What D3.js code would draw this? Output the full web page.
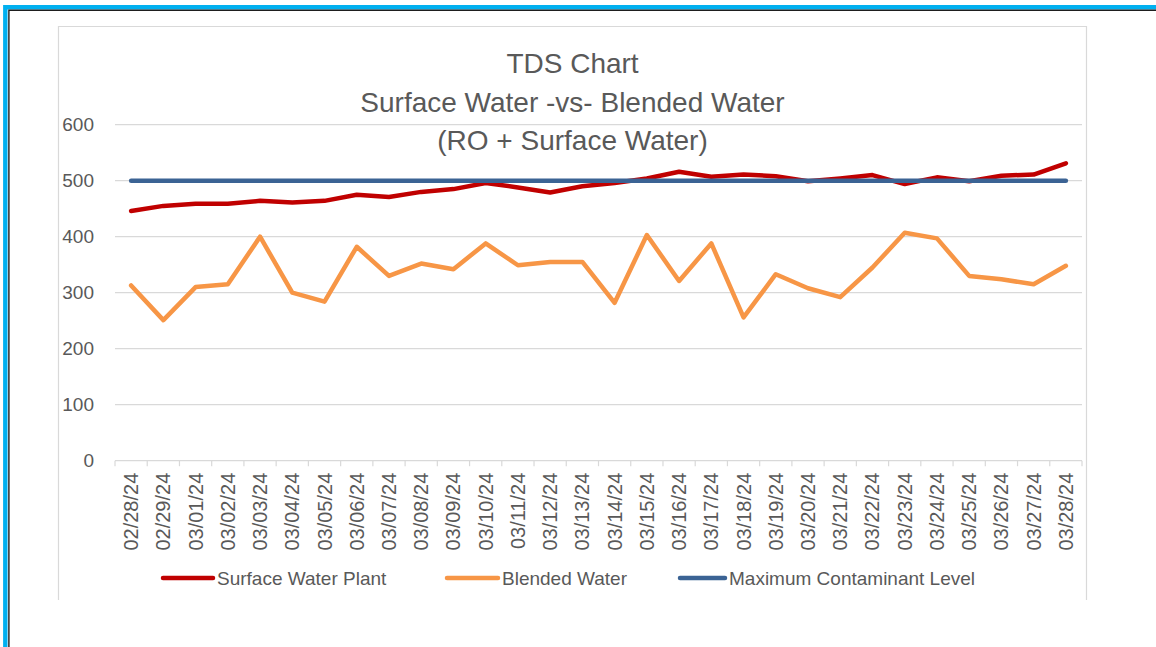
<!DOCTYPE html>
<html>
<head>
<meta charset="utf-8">
<script src="https://cdn.jsdelivr.net/npm/d3@7"></script>
<style>
  html, body { margin: 0; padding: 0; background: #fff; }
  svg { display: block; }
  text { font-family: "Liberation Sans", Arial, sans-serif; fill: #595959; }
</style>
</head>
<body>
<svg id="chart" width="1156" height="647"></svg>
<script>
// ---- Data ----
const dates = ["02/28/24","02/29/24","03/01/24","03/02/24","03/03/24","03/04/24","03/05/24","03/06/24",
  "03/07/24","03/08/24","03/09/24","03/10/24","03/11/24","03/12/24","03/13/24","03/14/24","03/15/24",
  "03/16/24","03/17/24","03/18/24","03/19/24","03/20/24","03/21/24","03/22/24","03/23/24","03/24/24",
  "03/25/24","03/26/24","03/27/24","03/28/24"];
const surfaceWater = [446,455,459,459,464,461,464,475,471,480,485,496,488,479,490,496,504,516,507,511,
  508,499,504,510,494,506,499,509,511,531];
const blendedWater = [313,251,310,315,400,300,284,382,330,352,342,388,349,355,355,282,403,321,388,256,
  333,308,292,345,407,397,330,324,315,348];
const mcl = [500,500,500,500,500,500,500,500,500,500,500,500,500,500,500,500,500,500,500,500,
  500,500,500,500,500,500,500,500,500,500];
const yTicks = [0,100,200,300,400,500,600];
const titleLines = ["TDS Chart","Surface Water -vs- Blended Water","(RO + Surface Water)"];
const seriesNames = ["Surface Water Plant","Blended Water","Maximum Contaminant Level"];
const seriesColors = ["#C00000","#F79646","#3B6394"];

// ---- Layout ----
const svg = d3.select("#chart");
const plot = { left: 115, right: 1082, top: 124.7, bottom: 460.7 };

// outer frame (cyan + dark inner line)
svg.append("path").attr("d","M5.3,647 V7.2 H1156").attr("fill","none")
  .attr("stroke","#00B0F0").attr("stroke-width",4.4);
svg.append("path").attr("d","M8.9,647 V10.2 H1156").attr("fill","none")
  .attr("stroke","#1e1e1e").attr("stroke-width",1.4);

// chart area box (left, top, right)
svg.append("path").attr("d","M58.5,600 V26.5 H1086.5 V600").attr("fill","none")
  .attr("stroke","#d9d9d9").attr("stroke-width",1.2);

const x = d3.scaleBand().domain(dates).range([plot.left, plot.right]).padding(0);
const y = d3.scaleLinear().domain([0,600]).range([plot.bottom, plot.top]);
const cx = d => x(d) + x.bandwidth()/2;

// gridlines
svg.append("g").selectAll("line").data(yTicks.filter(t => t > 0)).join("line")
  .attr("x1", plot.left).attr("x2", plot.right)
  .attr("y1", d => y(d)).attr("y2", d => y(d))
  .attr("stroke","#d9d9d9").attr("stroke-width",1.2);

// y axis labels
const yAxis = d3.axisLeft(y).tickValues(yTicks).tickSize(0).tickPadding(21);
const gy = svg.append("g").attr("transform",`translate(${plot.left},0)`).call(yAxis);
gy.select(".domain").remove();
gy.selectAll("text").style("font-size","19px").style("font-family","'Liberation Sans', Arial, sans-serif")
  .attr("fill","#595959");

// x axis
const xAxis = d3.axisBottom(x).tickSize(0).tickFormat(d => d);
const gx = svg.append("g").attr("transform",`translate(0,${plot.bottom})`).call(xAxis);
gx.select(".domain").attr("stroke","#d9d9d9").attr("stroke-width",1.2).attr("d",`M${plot.left},0H${plot.right}`);
gx.selectAll(".tick line").remove();
gx.selectAll(".tick text")
  .attr("transform","rotate(-90)")
  .attr("x",-12).attr("y",0).attr("dy","0.35em")
  .attr("text-anchor","end")
  .style("font-size","20px").style("font-family","'Liberation Sans', Arial, sans-serif")
  .attr("fill","#595959");
// ticks at category boundaries
const bounds = dates.map(d => x(d)).concat([plot.right]);
gx.append("g").selectAll("line").data(bounds).join("line")
  .attr("x1", d => d).attr("x2", d => d).attr("y1",0).attr("y2",5.5)
  .attr("stroke","#d9d9d9").attr("stroke-width",1.2);

// lines
const series = [surfaceWater, blendedWater, mcl];
const line = d3.line().x((d,i) => cx(dates[i])).y(d => y(d));
series.forEach((s, k) => {
  svg.append("path").datum(s).attr("d", line).attr("fill","none")
    .attr("stroke", seriesColors[k]).attr("stroke-width", 4.5)
    .attr("stroke-linejoin","round").attr("stroke-linecap","round");
});

// title
const title = svg.append("text").attr("text-anchor","middle").style("font-size","28px");
titleLines.forEach((t, i) => {
  title.append("tspan").attr("x",572.5).attr("y",73 + i*38.5).text(t);
});

// legend
const legendX = [163, 447, 680];
const legendW = [50, 51, 45];
const legendY = 578;
const lg = svg.append("g");
seriesNames.forEach((n, k) => {
  lg.append("line").attr("x1", legendX[k]).attr("x2", legendX[k] + legendW[k])
    .attr("y1", legendY).attr("y2", legendY)
    .attr("stroke", seriesColors[k]).attr("stroke-width", 4.5).attr("stroke-linecap","round");
  lg.append("text").attr("x", legendX[k] + legendW[k] + 4).attr("y", legendY).attr("dy","0.35em")
    .style("font-size","19px").text(n);
});
</script>
</body>
</html>
